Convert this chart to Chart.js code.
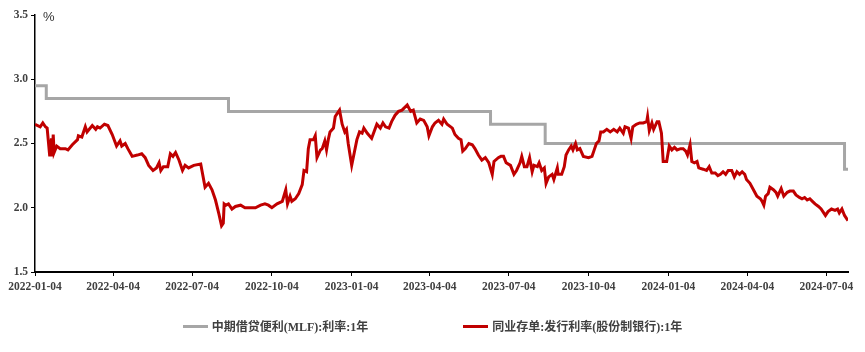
<!DOCTYPE html>
<html>
<head>
<meta charset="utf-8">
<script src="https://cdn.jsdelivr.net/npm/chart.js@4/dist/chart.umd.min.js"></script>
<style>
    html, body { margin: 0; padding: 0; background: #fff; }
    #wrap { position: relative; width: 865px; height: 352px; }
    #legend {
        position: absolute; left: 0; top: 317px; width: 865px;
        display: flex; justify-content: center; gap: 95px;
        font: bold 12px "Liberation Serif", "Noto Sans CJK SC", serif;
        color: #404040;
    }
    .lg-item { display: flex; align-items: center; }
    .lg-line { display: inline-block; width: 25px; height: 3px; margin-right: 4px; }
</style>
</head>
<body>
<div id="wrap">
    <canvas id="rateChart"></canvas>
    <div id="legend"></div>
</div>
<script>
// x axis tick labels (also the dates the ticks sit on)
const xTickLabels = ['2022-01-04', '2022-04-04', '2022-07-04', '2022-10-04', '2023-01-04', '2023-04-04',
    '2023-07-04', '2023-10-04', '2024-01-04', '2024-04-04', '2024-07-04'];

// 中期借贷便利(MLF):利率:1年 (step changes)
const mlfDates = ['2022-01-04', '2022-01-17', '2022-08-15', '2023-06-13', '2023-08-15', '2024-07-25', '2024-07-29'];
const mlfRates = [2.95, 2.85, 2.75, 2.65, 2.50, 2.30, 2.30];

// 同业存单:发行利率(股份制银行):1年
const cdDates = [
    '2022-01-04', '2022-01-10', '2022-01-13', '2022-01-16', '2022-01-18', '2022-01-21', '2022-01-23', '2022-01-24',
    '2022-01-25', '2022-01-26', '2022-01-29', '2022-02-02', '2022-02-08', '2022-02-11', '2022-02-16', '2022-02-22',
    '2022-02-23', '2022-02-27', '2022-03-03', '2022-03-05', '2022-03-11', '2022-03-15', '2022-03-17', '2022-03-20',
    '2022-03-25', '2022-03-29', '2022-04-03', '2022-04-08', '2022-04-12', '2022-04-14', '2022-04-18', '2022-04-21',
    '2022-04-26', '2022-05-02', '2022-05-07', '2022-05-11', '2022-05-15', '2022-05-20', '2022-05-24', '2022-05-27',
    '2022-05-29', '2022-06-01', '2022-06-06', '2022-06-09', '2022-06-12', '2022-06-15', '2022-06-19', '2022-06-23',
    '2022-06-26', '2022-06-30', '2022-07-06', '2022-07-14', '2022-07-19', '2022-07-23', '2022-07-27', '2022-07-31',
    '2022-08-04', '2022-08-07', '2022-08-09', '2022-08-10', '2022-08-12', '2022-08-15', '2022-08-19', '2022-08-23',
    '2022-08-29', '2022-09-03', '2022-09-09', '2022-09-15', '2022-09-21', '2022-09-26', '2022-09-30', '2022-10-04',
    '2022-10-10', '2022-10-16', '2022-10-20', '2022-10-22', '2022-10-25', '2022-10-27', '2022-10-31', '2022-11-04',
    '2022-11-08', '2022-11-10', '2022-11-13', '2022-11-15', '2022-11-17', '2022-11-21', '2022-11-23', '2022-11-25',
    '2022-11-29', '2022-12-01', '2022-12-04', '2022-12-06', '2022-12-08', '2022-12-10', '2022-12-14', '2022-12-16',
    '2022-12-19', '2022-12-21', '2022-12-24', '2022-12-27', '2022-12-29', '2022-12-31', '2023-01-04', '2023-01-07',
    '2023-01-10', '2023-01-13', '2023-01-16', '2023-01-18', '2023-01-22', '2023-01-27', '2023-02-02', '2023-02-06',
    '2023-02-09', '2023-02-12', '2023-02-16', '2023-02-19', '2023-02-23', '2023-02-27', '2023-03-03', '2023-03-09',
    '2023-03-13', '2023-03-16', '2023-03-20', '2023-03-24', '2023-03-28', '2023-04-01', '2023-04-03', '2023-04-07',
    '2023-04-10', '2023-04-14', '2023-04-18', '2023-04-20', '2023-04-24', '2023-04-30', '2023-05-03', '2023-05-07',
    '2023-05-10', '2023-05-12', '2023-05-15', '2023-05-19', '2023-05-23', '2023-05-26', '2023-05-30', '2023-06-03',
    '2023-06-07', '2023-06-11', '2023-06-15', '2023-06-17', '2023-06-22', '2023-06-25', '2023-06-28', '2023-07-01',
    '2023-07-06', '2023-07-10', '2023-07-13', '2023-07-17', '2023-07-19', '2023-07-22', '2023-07-25', '2023-07-28',
    '2023-07-31', '2023-08-02', '2023-08-06', '2023-08-08', '2023-08-11', '2023-08-14', '2023-08-16', '2023-08-19',
    '2023-08-23', '2023-08-25', '2023-08-29', '2023-08-30', '2023-09-03', '2023-09-06', '2023-09-08', '2023-09-11',
    '2023-09-14', '2023-09-16', '2023-09-19', '2023-09-21', '2023-09-24', '2023-09-28', '2023-10-04', '2023-10-08',
    '2023-10-11', '2023-10-13', '2023-10-16', '2023-10-18', '2023-10-21', '2023-10-25', '2023-10-29', '2023-11-02',
    '2023-11-06', '2023-11-09', '2023-11-13', '2023-11-15', '2023-11-19', '2023-11-22', '2023-11-24', '2023-11-28',
    '2023-12-02', '2023-12-06', '2023-12-10', '2023-12-11', '2023-12-13', '2023-12-16', '2023-12-18', '2023-12-22',
    '2023-12-24', '2023-12-27', '2023-12-29', '2024-01-02', '2024-01-05', '2024-01-08', '2024-01-11', '2024-01-14',
    '2024-01-18', '2024-01-21', '2024-01-24', '2024-01-26', '2024-01-29', '2024-01-31', '2024-02-03', '2024-02-06',
    '2024-02-08', '2024-02-13', '2024-02-17', '2024-02-20', '2024-02-23', '2024-02-27', '2024-03-01', '2024-03-04',
    '2024-03-07', '2024-03-10', '2024-03-13', '2024-03-17', '2024-03-20', '2024-03-23', '2024-03-26', '2024-03-29',
    '2024-04-01', '2024-04-03', '2024-04-07', '2024-04-11', '2024-04-15', '2024-04-19', '2024-04-21', '2024-04-23',
    '2024-04-25', '2024-04-28', '2024-04-30', '2024-05-04', '2024-05-07', '2024-05-09', '2024-05-13', '2024-05-16',
    '2024-05-20', '2024-05-23', '2024-05-27', '2024-05-30', '2024-06-03', '2024-06-06', '2024-06-09', '2024-06-12',
    '2024-06-15', '2024-06-18', '2024-06-21', '2024-06-25', '2024-06-28', '2024-07-03', '2024-07-06', '2024-07-10',
    '2024-07-14', '2024-07-17', '2024-07-19', '2024-07-22', '2024-07-25', '2024-07-29'
];
const cdRates = [
    2.65, 2.63, 2.66, 2.63, 2.62, 2.40, 2.54, 2.40,
    2.57, 2.43, 2.48, 2.46, 2.46, 2.45, 2.49, 2.53,
    2.56, 2.55, 2.63, 2.59, 2.64, 2.61, 2.63, 2.62,
    2.65, 2.64, 2.57, 2.48, 2.52, 2.48, 2.50, 2.46,
    2.40, 2.41, 2.42, 2.39, 2.33, 2.29, 2.31, 2.35,
    2.29, 2.32, 2.32, 2.42, 2.40, 2.43, 2.37, 2.29,
    2.33, 2.31, 2.33, 2.34, 2.16, 2.19, 2.14, 2.06,
    1.95, 1.86, 1.88, 2.03, 2.02, 2.03, 1.99, 2.01,
    2.02, 2.00, 2.00, 2.00, 2.02, 2.03, 2.02, 2.00,
    2.03, 2.05, 2.14, 2.03, 2.09, 2.05, 2.07, 2.11,
    2.18, 2.29, 2.28, 2.46, 2.53, 2.53, 2.56, 2.39,
    2.45, 2.46, 2.52, 2.45, 2.53, 2.59, 2.62, 2.71,
    2.74, 2.76, 2.65, 2.59, 2.61, 2.50, 2.33, 2.43,
    2.53, 2.59, 2.58, 2.62, 2.58, 2.54, 2.65, 2.62,
    2.66, 2.63, 2.62, 2.67, 2.72, 2.75, 2.76, 2.80,
    2.75, 2.76, 2.66, 2.69, 2.68, 2.63, 2.56, 2.63,
    2.66, 2.68, 2.65, 2.69, 2.65, 2.62, 2.57, 2.54,
    2.53, 2.44, 2.46, 2.50, 2.49, 2.46, 2.41, 2.37,
    2.39, 2.35, 2.26, 2.36, 2.39, 2.40, 2.40, 2.35,
    2.33, 2.26, 2.29, 2.35, 2.40, 2.32, 2.32, 2.39,
    2.28, 2.33, 2.32, 2.35, 2.29, 2.31, 2.19, 2.24,
    2.26, 2.22, 2.31, 2.26, 2.26, 2.32, 2.41, 2.45,
    2.48, 2.45, 2.50, 2.45, 2.46, 2.40, 2.39, 2.40,
    2.46, 2.50, 2.52, 2.59, 2.59, 2.61, 2.59, 2.61,
    2.59, 2.62, 2.58, 2.63, 2.62, 2.54, 2.63, 2.65,
    2.66, 2.66, 2.67, 2.71, 2.60, 2.66, 2.61, 2.67,
    2.67, 2.58, 2.36, 2.36, 2.48, 2.45, 2.47, 2.45,
    2.46, 2.46, 2.44, 2.41, 2.49, 2.36, 2.35, 2.36,
    2.31, 2.30, 2.29, 2.32, 2.27, 2.27, 2.25, 2.26,
    2.28, 2.26, 2.29, 2.29, 2.24, 2.28, 2.26, 2.28,
    2.26, 2.22, 2.19, 2.14, 2.09, 2.07, 2.05, 2.02,
    2.09, 2.11, 2.16, 2.14, 2.12, 2.09, 2.15, 2.09,
    2.12, 2.13, 2.13, 2.10, 2.08, 2.07, 2.08, 2.06,
    2.07, 2.05, 2.03, 2.01, 1.99, 1.94, 1.97, 1.99,
    1.98, 1.99, 1.96, 1.99, 1.94, 1.90
];

const seriesNames = ['中期借贷便利(MLF):利率:1年', '同业存单:发行利率(股份制银行):1年'];
const seriesColors = ['#A6A6A6', '#C00000'];

//..dates become day numbers on a linear axis
const DAY = 86400000;
const t0 = Date.parse(xTickLabels[0]);
const toDay = s => (Date.parse(s) - t0) / DAY;
const toPoints = (dates, vals) => dates.map((d, i) => ({ x: toDay(d), y: vals[i] }));

const tickFont = { family: '"Liberation Serif", serif', size: 11.5, weight: 'bold' };

//..the "%" unit at the top of the y axis
const unitLabel = {
    id: 'unitLabel',
    afterDraw(chart) {
        const { ctx, chartArea } = chart;
        ctx.save();
        ctx.font = '13px "Liberation Sans", sans-serif';
        ctx.fillStyle = '#333';
        ctx.textBaseline = 'middle';
        ctx.fillText('%', chartArea.left + 8, chartArea.top + 2);
        ctx.restore();
    }
};

new Chart(document.getElementById('rateChart'), {
    type: 'line',
    data: {
        datasets: [{
            label: seriesNames[0],
            data: toPoints(mlfDates, mlfRates),
            borderColor: seriesColors[0],
            borderWidth: 3,
            stepped: true,
            pointRadius: 0,
            order: 1
        }, {
            label: seriesNames[1],
            data: toPoints(cdDates, cdRates),
            borderColor: seriesColors[1],
            borderWidth: 3,
            pointRadius: 0,
            tension: 0,
            order: 0
        }]
    },
    options: {
        responsive: true,
        maintainAspectRatio: false,
        animation: false,
        layout: { padding: { top: 15, right: 17, left: 0, bottom: 0 } },
        plugins: {
            legend: { display: false },
            tooltip: { enabled: false }
        },
        scales: {
            x: {
                type: 'linear',
                min: 0,
                max: toDay(cdDates[cdDates.length - 1]),
                afterBuildTicks(scale) {
                    scale.ticks = xTickLabels.map(s => ({ value: toDay(s) }));
                },
                afterFit(scale) { scale.height = 80; },
                ticks: {
                    autoSkip: false,
                    maxRotation: 0,
                    padding: 4,
                    color: '#404040',
                    font: tickFont,
                    callback: v => new Date(t0 + v * DAY).toISOString().slice(0, 10)
                },
                grid: { drawOnChartArea: false, drawTicks: true, tickLength: 4, tickColor: '#000' },
                border: { color: '#000', width: 2 }
            },
            y: {
                min: 1.5,
                max: 3.5,
                afterFit(scale) { scale.width = 35; },
                ticks: {
                    stepSize: 0.5,
                    padding: 3,
                    color: '#404040',
                    font: tickFont,
                    callback: v => v.toFixed(1)
                },
                grid: { drawOnChartArea: false, drawTicks: true, tickLength: 4, tickColor: '#000' },
                border: { color: '#000', width: 1.5 }
            }
        }
    },
    plugins: [unitLabel]
});

//..legend under the chart
const legendBox = document.getElementById('legend');
seriesNames.forEach((name, i) => {
    const item = document.createElement('div');
    item.className = 'lg-item';
    item.innerHTML = `<span class="lg-line" style="background:${seriesColors[i]}"></span><span>${name}</span>`;
    legendBox.appendChild(item);
});
</script>
</body>
</html>
